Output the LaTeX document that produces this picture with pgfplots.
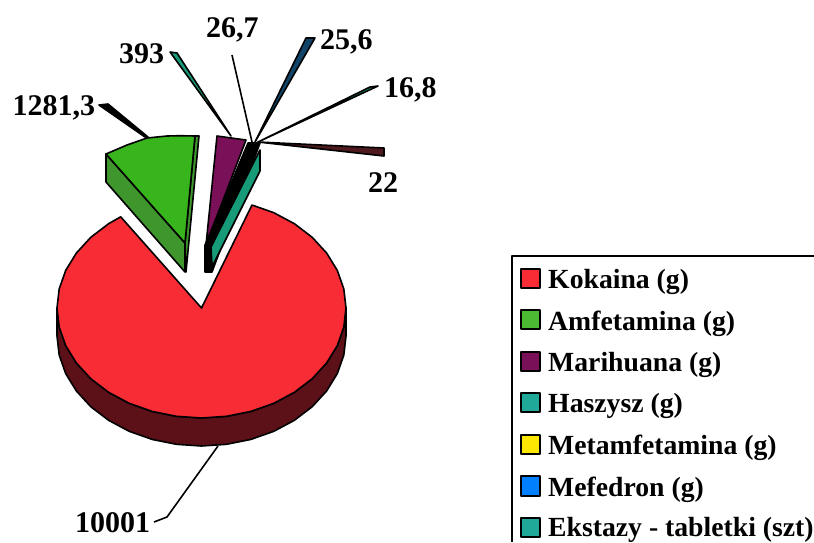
\documentclass[border=0pt]{standalone}
\usepackage{fontspec}
\setmainfont{Liberation Serif}
\usepackage{pgfplots}
\pgfplotsset{compat=1.18}
\definecolor{cred}{HTML}{F82C34}
\definecolor{cside}{HTML}{5C1018}
\definecolor{cgreen}{HTML}{38B41C}
\definecolor{cgreend}{HTML}{3F962C}
\definecolor{cpurple}{HTML}{7A1058}
\definecolor{cteal}{HTML}{169A78}
\definecolor{ckey}{HTML}{20A898}
\definecolor{cblued}{HTML}{104468}
\definecolor{cmar}{HTML}{4E1A1E}
\newcommand{\lab}[3]{\node[anchor=base west,inner sep=0pt,font=\fontsize{30}{31}\selectfont\bfseries] at (axis cs:#1,#2) {#3};}
\newcommand{\leg}[2]{\node[anchor=base west,inner sep=0pt,font=\fontsize{27.7}{30}\selectfont\bfseries] at (axis cs:548,#1) {#2};}
\begin{document}
\begin{tikzpicture}
\begin{axis}[
  scale only axis, width=814pt, height=542pt,
  xmin=0, xmax=814, ymin=0, ymax=542, y dir=reverse,
  axis lines=none, clip=true,
  every axis plot/.append style={mark=none, line join=round, draw=black, line width=1.6pt},
]
\path (axis cs:0,0) rectangle (axis cs:814,542);
% Kokaina: side band
\addplot[fill=cside] coordinates {
(346,308)(343.8,327.1)(337.3,345.6)(326.6,363)(312.2,378.7)(294.4,392.3)(273.8,403.3)(250.9,411.4)(226.6,416.3)(201.5,418)(176.4,416.3)(152.1,411.4)(129.2,403.3)(108.6,392.3)(90.8,378.7)(76.4,363)(65.7,345.6)(59.2,327.1)(57,308)
(57,336)(59.2,355.1)(65.7,373.6)(76.4,391)(90.8,406.7)(108.6,420.3)(129.2,431.3)(152.1,439.4)(176.4,444.3)(201.5,446)(226.6,444.3)(250.9,439.4)(273.8,431.3)(294.4,420.3)(312.2,406.7)(326.6,391)(337.3,373.6)(343.8,355.1)(346,336)
} -- cycle;
% Kokaina: top
\addplot[fill=cred] coordinates {
(201.5,308)(252,205)(273.8,212.7)(294.4,223.7)(312.2,237.3)(326.6,253)(337.3,270.4)(343.8,288.9)(346,308)(343.8,327.1)(337.3,345.6)(326.6,363)(312.2,378.7)(294.4,392.3)(273.8,403.3)(250.9,411.4)(226.6,416.3)(201.5,418)(176.4,416.3)(152.1,411.4)(129.2,403.3)(108.6,392.3)(90.8,378.7)(76.4,363)(65.7,345.6)(59.2,327.1)(57,308)(59.2,288.9)(65.7,270.4)(76.4,253)(90.8,237.3)(108.6,223.7)(120.7,216.8)
} -- cycle;
% Amfetamina
\addplot[fill=cgreend] coordinates {(106,154)(185,243)(185,272)(106,182)} -- cycle;
\addplot[fill=cgreend] coordinates {(195,136)(199,136)(186,272)(185,243)} -- cycle;
\addplot[fill=cgreen] coordinates {(195,136)(180,135.7)(167,136)(147,138)(127,145)(106,154)(185,243)} -- cycle;
\addplot[fill=black] coordinates {(99,105)(108,104)(148,137)(145,137)} -- cycle;
% Marihuana
\addplot[fill=cpurple] coordinates {(217,136)(246,140)(206,245)} -- cycle;
% Haszysz and the small slices
\addplot[fill=black] coordinates {(248,143)(260,143)(212,272)(205,272)(205,245)} -- cycle;
\addplot[fill=cteal] coordinates {(260,150)(260,171)(212,267)(211,247)} -- cycle;
% spokes
\addplot[fill=cteal] coordinates {(170,52)(177,53)(231,136)} -- cycle;
\addplot[black,mark=none] coordinates {(232,55)(252,142)};
\addplot[fill=cblued] coordinates {(306,38)(315,38)(255,142)} -- cycle;
\addplot[fill=cteal] coordinates {(370,87)(378,86)(258,142)} -- cycle;
\addplot[fill=cmar] coordinates {(258,142)(384,148)(384,156)} -- cycle;
% Kokaina leader
\addplot[black,mark=none] coordinates {(218,446)(167,517)(154,522)};
% legend frame and keys
\addplot[line width=1.5pt] coordinates {(814,256)(512,256)(512,542)};
\addplot[fill=cred]    coordinates {(521,269)(540,269)(540,288)(521,288)} -- cycle;
\addplot[fill=cgreen!90!white] coordinates {(521,310)(540,310)(540,329)(521,329)} -- cycle;
\addplot[fill=cpurple] coordinates {(521,352)(540,352)(540,371)(521,371)} -- cycle;
\addplot[fill=ckey]    coordinates {(521,393)(540,393)(540,412)(521,412)} -- cycle;
\addplot[fill=yellow!95!red] coordinates {(521,435)(540,435)(540,454)(521,454)} -- cycle;
\addplot[fill=blue!50!cyan]  coordinates {(521,476)(540,476)(540,496)(521,496)} -- cycle;
\addplot[fill=ckey]    coordinates {(521,518)(540,518)(540,537)(521,537)} -- cycle;
\lab{206}{37.7}{26,7}
\lab{119}{63}{393}
\lab{320}{49}{25,6}
\lab{384}{97}{16,8}
\lab{12.5}{115}{1281,3}
\lab{368}{192.7}{22}
\lab{75}{532.7}{10001}
\leg{288}{Kokaina (g)}
\leg{330}{Amfetamina (g)}
\leg{371}{Marihuana (g)}
\leg{412.7}{Haszysz (g)}
\leg{454}{Metamfetamina (g)}
\leg{496.7}{Mefedron (g)}
\leg{536.3}{Ekstazy - tabletki (szt)}
\end{axis}
\end{tikzpicture}
\end{document}
